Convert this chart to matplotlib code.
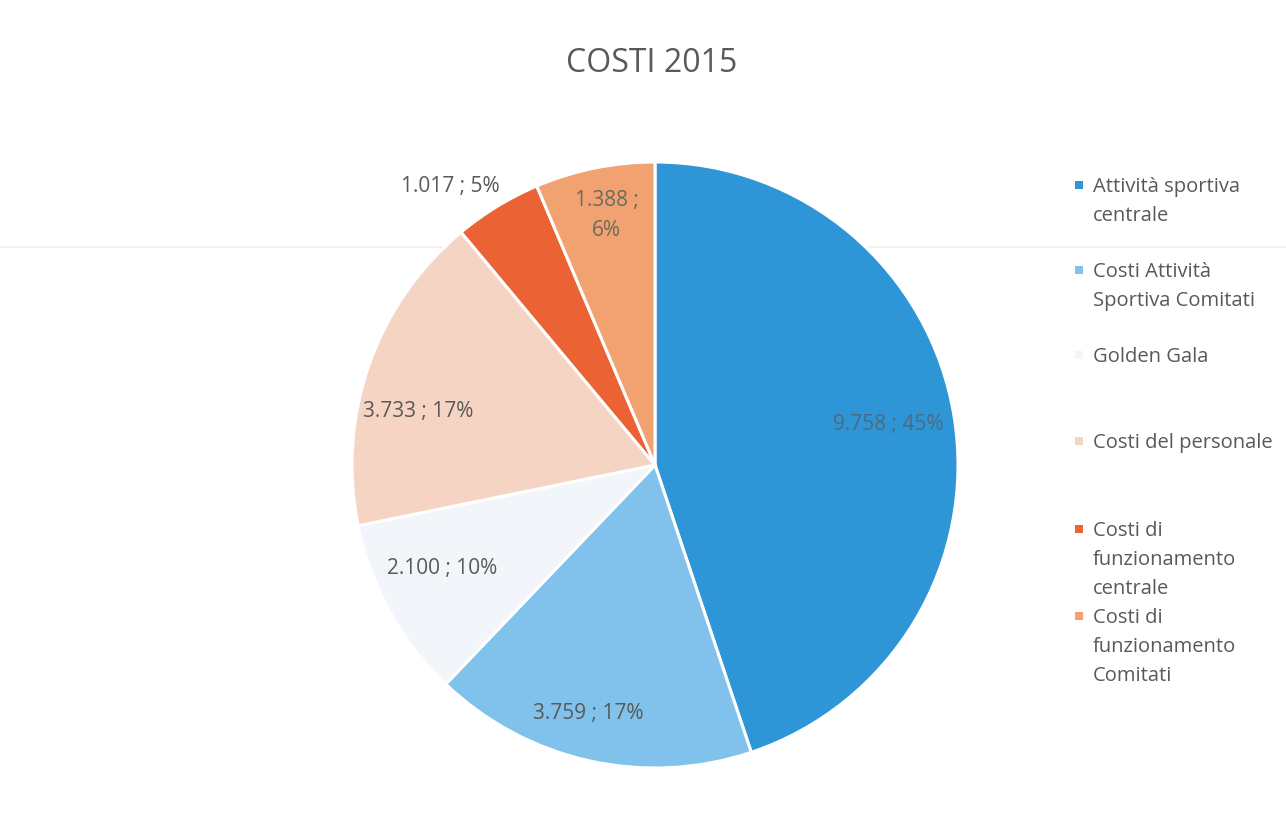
import matplotlib
matplotlib.use("Agg")
import matplotlib.pyplot as plt
from matplotlib.lines import Line2D
from matplotlib.patches import Rectangle
import numpy as np

# ---- data ----
categories = [
    "Attività sportiva\ncentrale",
    "Costi Attività\nSportiva Comitati",
    "Golden Gala",
    "Costi del personale",
    "Costi di\nfunzionamento\ncentrale",
    "Costi di\nfunzionamento\nComitati",
]
values = [9758, 3759, 2100, 3733, 1017, 1388]
title = "COSTI 2015"

# ---- style ----
colors = ["#2E95D6", "#80C2EC", "#F2F5F9", "#F6D4C4", "#EB6234", "#F2A171"]
label_dist = [0.78, 0.85, 0.78, 0.80, 1.14, 0.84]
label_angle_shift = [0.5, -2.5, -3.0, 6.5, 5.0, -0.5]
label_colors = ["#4D6A85", "#595959", "#595959", "#595959", "#595959", "#6B6B5A"]
two_line = [False, False, False, False, False, True]
legend_y = [185, 270, 355, 441, 529, 616]  # pixel rows (centre of first line)

W, H = 1286, 840
fig = plt.figure(figsize=(W / 100, H / 100), dpi=100)
fig.patch.set_facecolor("white")
FONT = "Open Sans"

# faint scan line (behind everything)
fig.add_artist(Line2D([0, 1], [1 - 247 / H, 1 - 247 / H],
                      transform=fig.transFigure, color="#F4EEEE", lw=1.2,
                      zorder=-1))

cx, cy, r = 655, 465, 303
ax = fig.add_axes([(cx - r) / W, (H - cy - r) / H, 2 * r / W, 2 * r / H])
ax.patch.set_alpha(0)
wedges, _ = ax.pie(values, colors=colors, startangle=90, counterclock=False,
                   radius=1.0,
                   wedgeprops=dict(edgecolor="white", linewidth=2.2))
ax.set_xlim(-1, 1)
ax.set_ylim(-1, 1)
ax.set_aspect("equal")
ax.axis("off")

total = sum(values)
for i, (w, v) in enumerate(zip(wedges, values)):
    mid = np.deg2rad((w.theta1 + w.theta2) / 2 + label_angle_shift[i])
    d = label_dist[i]
    pct = round(100 * v / total)
    num = f"{v:,}".replace(",", ".")
    sep = " ;\n" if two_line[i] else " ; "
    ax.text(d * np.cos(mid), d * np.sin(mid), f"{num}{sep}{pct}%",
            ha="center", va="center", fontsize=15, family=FONT,
            color=label_colors[i], linespacing=1.55)

fig.text(652 / W, 1 - 64 / H, title, ha="center", va="center",
         fontsize=23, family=FONT, color="#595959")

# legend
for i, (lab, c) in enumerate(zip(categories, colors)):
    y = legend_y[i]
    fig.add_artist(Rectangle((1075 / W, 1 - (y + 4) / H), 8 / W, 8 / H,
                             transform=fig.transFigure, facecolor=c,
                             edgecolor="none"))
    fig.text(1093 / W, 1 - (y - 8) / H, lab, ha="left", va="top",
             fontsize=14.5, family=FONT, color="#595959", linespacing=1.6)

fig.savefig("out.png", dpi=100, facecolor="white")
